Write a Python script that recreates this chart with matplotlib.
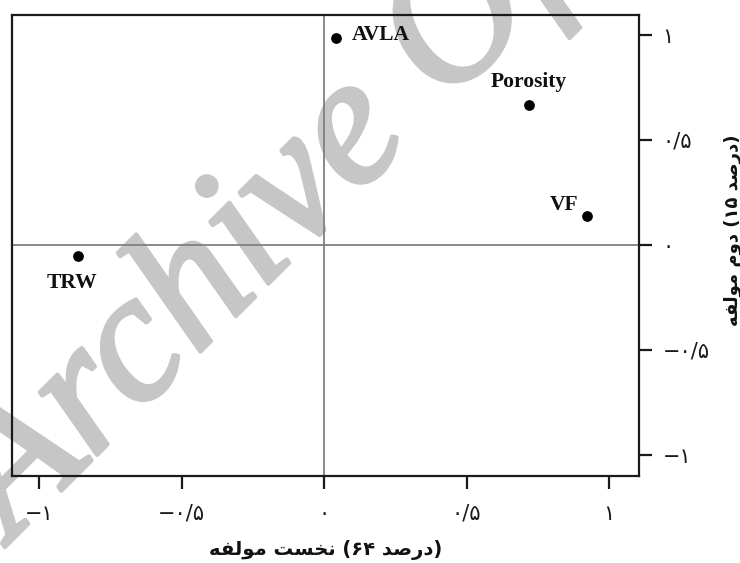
import matplotlib
matplotlib.use('Agg')
import matplotlib.pyplot as plt
import matplotlib.patheffects as pe

# PCA loadings (component 1 = 64 %, component 2 = 15 %)
names = ['AVLA', 'Porosity', 'VF', 'TRW']
pc1 = [0.042, 0.718, 0.921, -0.865]
pc2 = [0.986, 0.667, 0.138, -0.052]

tick_values = [-1, -0.5, 0, 0.5, 1]
tick_labels = ['\u2212\u06F1', '\u2212\u06F0/\u06F5', '\u06F0', '\u06F0/\u06F5', '\u06F1']

# Persian words as presentation forms, letters already in visual order
# (matplotlib has no bidi / shaping of its own)
w_moalefe = '\uFEEA\uFED4\uFEDF\uFEEE\uFEE3'
w_nakhost = '\uFE96\uFEB4\uFEA8\uFEE7'
w_dovom = '\uFEE1\uFEED\uFEA9'
w_darsad = '\uFEAA\uFEBB\uFEAD\uFEA9'
xlabel = w_moalefe + ' ' + w_nakhost + ' (\u06F6\u06F4 ' + w_darsad + ')'
ylabel = w_moalefe + ' ' + w_dovom + ' (\u06F1\u06F5 ' + w_darsad + ')'

fig = plt.figure(figsize=(7.4, 5.63), dpi=100)

# watermark, behind the axes
wm_color = '#c6c6c6'
fig.text(12 / 740, 1 - 540 / 563, 'Archive Of SID', fontsize=133,
         family='Liberation Serif', style='italic', color=wm_color,
         rotation=45, rotation_mode='anchor', ha='left', va='baseline',
         zorder=0,
         path_effects=[pe.withStroke(linewidth=3, foreground=wm_color)])

ax = fig.add_axes([12 / 740, 1 - 476 / 563, 627 / 740, 461 / 563])
ax.set_facecolor('none')
ax.set_zorder(1)

ax.axhline(0, color='#808080', lw=1.3, zorder=1)
ax.axvline(0, color='#808080', lw=1.3, zorder=1)
ax.scatter(pc1, pc2, s=45, color='black', zorder=3)

# label offsets in pixels (dx, dy, ha)
offsets = {'AVLA': (16, 3, 'left'), 'Porosity': (0, 23, 'center'),
           'VF': (-22, 11, 'center'), 'TRW': (-6, -27, 'center')}
for n, x, y in zip(names, pc1, pc2):
    dx, dy, ha = offsets[n]
    ax.annotate(n, (x, y), xytext=(dx, dy), textcoords='offset pixels',
                ha=ha, va='center', fontsize=15.5, fontweight='bold',
                family='Liberation Serif', color='#111111', zorder=4)

ax.set_xlim(-1.095, 1.105)
ax.set_ylim(-1.1, 1.095)
ax.yaxis.tick_right()
ax.set_xticks(tick_values)
ax.set_xticklabels(tick_labels)
ax.set_yticks(tick_values)
ax.set_yticklabels(tick_labels)
ax.tick_params(axis='both', direction='out', length=9, width=1.6,
               labelsize=15, colors='#1a1a1a')
ax.tick_params(axis='x', pad=11)
ax.tick_params(axis='y', pad=8)
for sp in ax.spines.values():
    sp.set_linewidth(1.6)
    sp.set_color('#1a1a1a')

fig.text(326 / 740, 1 - 550 / 563, xlabel, ha='center', va='center',
         fontsize=14, fontweight='bold', family='DejaVu Sans', color='#111111')
fig.text(733 / 740, 1 - 230 / 563, ylabel, ha='center', va='center',
         rotation=90, fontsize=13, fontweight='bold', family='DejaVu Sans',
         color='#111111')

fig.savefig('out.png', dpi=100)
